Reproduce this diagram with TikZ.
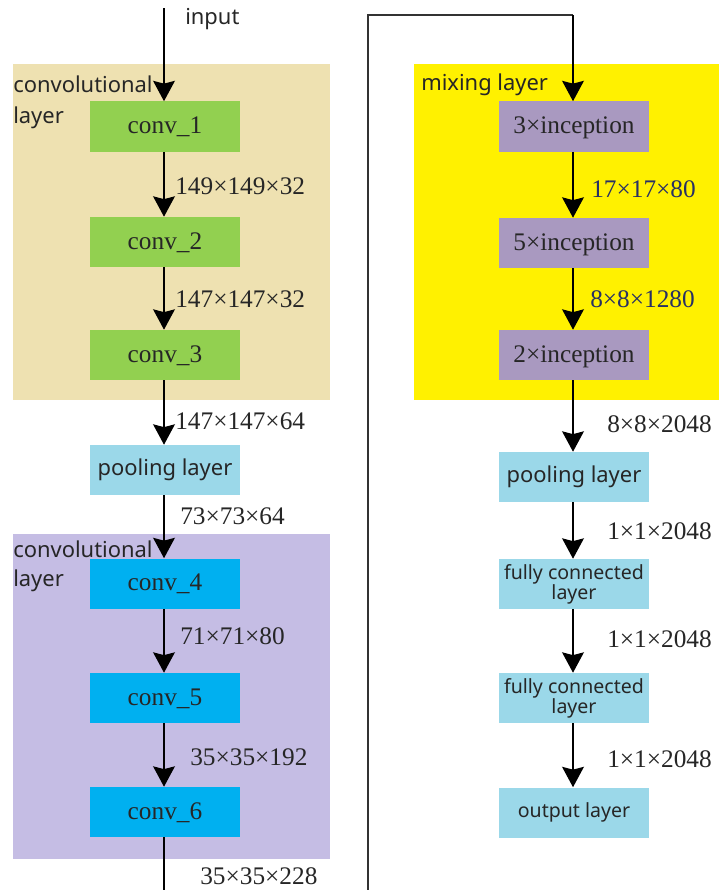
\documentclass[tikz,border=0pt]{standalone}
\usepackage{fontspec}
\setmainfont{Liberation Serif}
\newfontfamily\yh{Noto Sans}
\usetikzlibrary{arrows.meta}
\definecolor{beigebg}{RGB}{238,225,177}
\definecolor{lavbg}{RGB}{197,189,228}
\definecolor{yelbg}{RGB}{255,241,0}
\definecolor{greenbox}{RGB}{146,208,80}
\definecolor{bluebox}{RGB}{0,176,240}
\definecolor{lightbox}{RGB}{155,216,233}
\definecolor{incbox}{RGB}{169,153,192}
\definecolor{txt}{RGB}{38,38,38}
\definecolor{navytxt}{RGB}{40,48,100}
\tikzset{
  blk/.style={minimum width=3.75cm, minimum height=1.25cm, inner sep=0pt, text=txt},
  serifbox/.style={blk, text height=13.5pt, text depth=3pt, font=\fontsize{18}{20}\selectfont},
  sansbox/.style={blk, font=\yh\fontsize{15.6}{18}\selectfont},
  smallbox/.style={blk, align=center, font=\yh\fontsize{13.9}{14.2}\selectfont},
  dimlabel/.style={anchor=west, inner sep=0pt, text=txt, font=\fontsize{18}{20}\selectfont},
  grouplabel/.style={anchor=west, inner sep=0pt, text=txt, font=\yh\fontsize{15.6}{18}\selectfont},
  flow/.style={line width=1pt, -{Stealth[width=15.5pt,length=14.5pt,inset=2pt]}},
  loopline/.style={line width=0.8pt, draw=black!80}
}
\begin{document}
\begin{tikzpicture}[x=0.025cm, y=-0.025cm]
\useasboundingbox (0,0) rectangle (719,890);
% group backgrounds
\fill[beigebg] (13,64) rectangle (330,400);
\fill[lavbg] (13,534) rectangle (330,859);
\fill[yelbg] (414,64) rectangle (719,400);
% group labels
\node[grouplabel] (g1a) at (13,84) {convolutional};
\node[grouplabel] (g1b) at (13,118) {layer};
\node[grouplabel] (g2a) at (13,549) {convolutional};
\node[grouplabel] (g2b) at (13,581) {layer};
\node[grouplabel] (g3) at (421,85) {mixing layer};
\node[grouplabel] (inp) at (185,19) {input};
% left column
\node[serifbox, fill=greenbox] (conv1) at (165,126.5) {conv\_1};
\node[serifbox, fill=greenbox] (conv2) at (165,242) {conv\_2};
\node[serifbox, fill=greenbox] (conv3) at (165,355) {conv\_3};
\node[sansbox, fill=lightbox] (pool1) at (165,470) {pooling layer};
\node[serifbox, fill=bluebox] (conv4) at (165,583.5) {conv\_4};
\node[serifbox, fill=bluebox] (conv5) at (165,698) {conv\_5};
\node[serifbox, fill=bluebox] (conv6) at (165,812) {conv\_6};
% right column
\node[serifbox, fill=incbox] (inc3) at (574,126.5) {3×inception};
\node[serifbox, fill=incbox] (inc5) at (574,243) {5×inception};
\node[serifbox, fill=incbox] (inc2) at (574,355) {2×inception};
\node[sansbox, fill=lightbox] (pool2) at (574,477) {pooling layer};
\node[smallbox, fill=lightbox] (fc1) at (574,584) {fully connected\\layer};
\node[smallbox, fill=lightbox] (fc2) at (574,698) {fully connected\\layer};
\node[smallbox, fill=lightbox] (outl) at (574,812.5) {output layer};
% coordinates
\coordinate (start) at (164,8);
\coordinate (bl) at (164,890);
\coordinate (br) at (368,890);
\coordinate (tl) at (368,15);
\coordinate (tr) at (573,15);
% connectors
\draw[flow] (start) -- (conv1.north -| start);
\draw[flow] (conv1.south -| start) -- (conv2.north -| start);
\draw[flow] (conv2.south -| start) -- (conv3.north -| start);
\draw[flow] (conv3.south -| start) -- (pool1.north -| start);
\draw[flow] (pool1.south -| start) -- (conv4.north -| start);
\draw[flow] (conv4.south -| start) -- (conv5.north -| start);
\draw[flow] (conv5.south -| start) -- (conv6.north -| start);
\draw[line width=1pt] (conv6.south -| start) -- (bl);
\draw[loopline] (br) -- (tl) -- (tr);
\draw[flow] (tr) -- (inc3.north -| tr);
\draw[flow] (inc3.south -| tr) -- (inc5.north -| tr);
\draw[flow] (inc5.south -| tr) -- (inc2.north -| tr);
\draw[flow] (inc2.south -| tr) -- (pool2.north -| tr);
\draw[flow] (pool2.south -| tr) -- (fc1.north -| tr);
\draw[flow] (fc1.south -| tr) -- (fc2.north -| tr);
\draw[flow] (fc2.south -| tr) -- (outl.north -| tr);
% dimension labels
\node[dimlabel] (d1) at (175,186) {149×149×32};
\node[dimlabel] (d2) at (175,299) {147×147×32};
\node[dimlabel] (d3) at (175,421) {147×147×64};
\node[dimlabel] (d4) at (180,516) {73×73×64};
\node[dimlabel] (d5) at (180,636) {71×71×80};
\node[dimlabel] (d6) at (190,757) {35×35×192};
\node[dimlabel] (d7) at (200,876) {35×35×228};
\node[dimlabel, text=navytxt] (d8) at (591,189) {17×17×80};
\node[dimlabel, text=navytxt] (d9) at (590,299) {8×8×1280};
\node[dimlabel] (d10) at (607,424) {8×8×2048};
\node[dimlabel] (d11) at (607,531) {1×1×2048};
\node[dimlabel] (d12) at (607,639) {1×1×2048};
\node[dimlabel] (d13) at (607,759) {1×1×2048};
\end{tikzpicture}
\end{document}
